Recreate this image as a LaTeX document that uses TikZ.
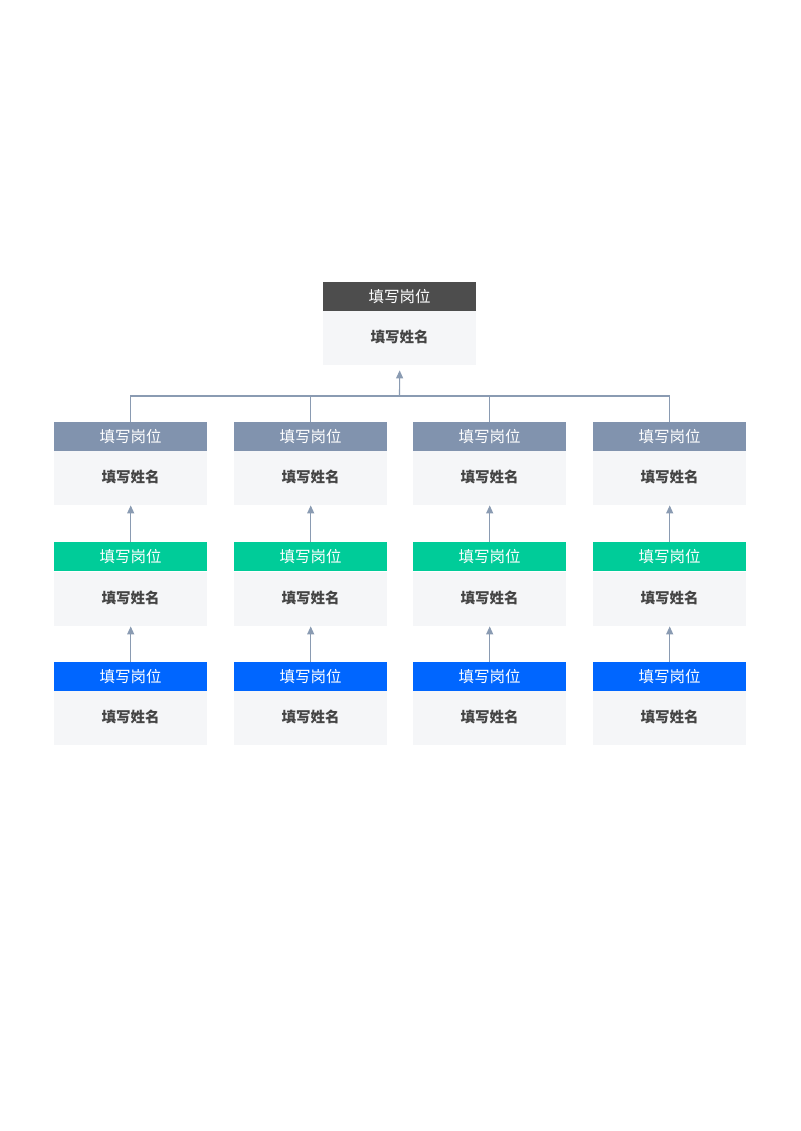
\documentclass[tikz,border=0pt]{standalone}
\usepackage{fontspec}
\setmainfont{Noto Sans CJK SC}
\usetikzlibrary{arrows.meta}
\definecolor{hdark}{HTML}{4D4D4D}
\definecolor{hslate}{HTML}{8193AE}
\definecolor{hgreen}{HTML}{00CC99}
\definecolor{hblue}{HTML}{0066FF}
\definecolor{bodybg}{HTML}{F5F6F8}
\definecolor{bodytxt}{HTML}{444444}
\definecolor{linec}{HTML}{8A9BB2}
\tikzset{
  hdr/.style={rectangle, inner sep=0pt, minimum width=153pt, minimum height=29pt, text=white, font=\fontsize{15.5}{17}\selectfont, anchor=north west},
  bodybox/.style={rectangle, fill=bodybg, inner sep=0pt, minimum width=153pt, minimum height=54pt, text depth=3pt, text height=11pt, text=bodytxt, font=\fontsize{14.5}{17}\selectfont\bfseries, anchor=north west},
  link/.style={draw=linec, line width=1.1pt},
  arr/.style={draw=linec, line width=1.1pt, -{Triangle[length=8pt,width=7pt]}}
}
\begin{document}
\begin{tikzpicture}[x=1pt,y=-1pt]
\useasboundingbox (0,0) rectangle (800,1131);
% top box
\node[hdr, fill=hdark] (h0) at (323,282) {填写岗位};
\node[bodybox] (b0) at (323,311) {填写姓名};
% columns
\foreach \i/\x in {1/54,2/234,3/413,4/593}{
  \node[hdr, fill=hslate] (ha\i) at (\x,422) {填写岗位};
  \node[bodybox] (ba\i) at (\x,451) {填写姓名};
  \node[hdr, fill=hgreen] (hb\i) at (\x,542) {填写岗位};
  \node[bodybox] (bb\i) at (\x,572) {填写姓名};
  \node[hdr, fill=hblue] (hc\i) at (\x,662) {填写岗位};
  \node[bodybox] (bc\i) at (\x,691) {填写姓名};
  \draw[arr] (hb\i.north) -- (ba\i.south);
  \draw[arr] (hc\i.north) -- (bb\i.south);
}
\coordinate (bus) at (399.5,396);
\draw[link] (ha1.north) -- (ha1.north |- bus) -- (ha4.north |- bus) -- (ha4.north);
\draw[link] (ha2.north) -- (ha2.north |- bus);
\draw[link] (ha3.north) -- (ha3.north |- bus);
\draw[arr, shorten >=5pt] (bus) -- (b0.south);
\end{tikzpicture}
\end{document}
